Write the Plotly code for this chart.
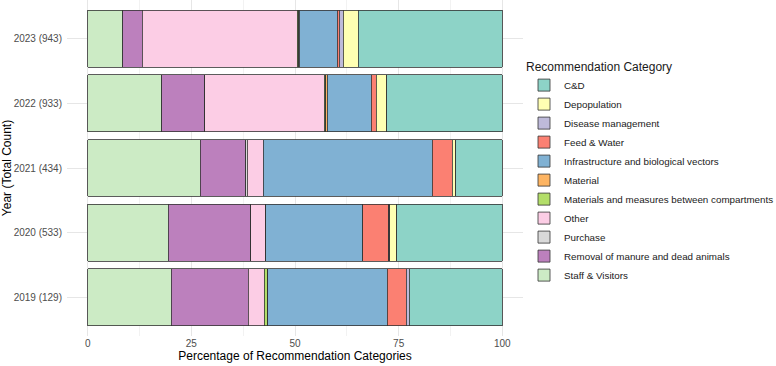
import plotly.graph_objects as go

years = ["2019 (129)", "2020 (533)", "2021 (434)", "2022 (933)", "2023 (943)"]

# Stacking order (left to right), values in % per year (2019..2023)
categories = [
    "Staff & Visitors",
    "Removal of manure and dead animals",
    "Purchase",
    "Other",
    "Materials and measures between compartments",
    "Material",
    "Infrastructure and biological vectors",
    "Feed & Water",
    "Disease management",
    "Depopulation",
    "C&D",
]
staff_visitors = [20.2, 19.4, 27.1, 17.8, 8.5]
removal_manure = [18.5, 19.9, 11.0, 10.4, 4.6]
purchase = [0.0, 0.0, 0.4, 0.0, 0.0]
other = [3.9, 3.7, 3.9, 28.9, 37.5]
materials_between = [0.8, 0.0, 0.0, 0.3, 0.3]
material = [0.0, 0.0, 0.0, 0.4, 0.1]
infrastructure = [28.8, 23.3, 40.7, 10.6, 9.2]
feed_water = [4.6, 6.3, 4.8, 1.2, 0.5]
disease_mgmt = [0.8, 0.2, 0.0, 0.0, 0.9]
depopulation = [0.0, 1.7, 0.9, 2.5, 3.6]
c_and_d = [22.4, 25.5, 11.2, 27.9, 34.8]

series = [staff_visitors, removal_manure, purchase, other, materials_between,
          material, infrastructure, feed_water, disease_mgmt, depopulation, c_and_d]
colors = ["#CCEBC5", "#BC80BD", "#D9D9D9", "#FCCDE5", "#B3DE69", "#FDB462",
          "#80B1D3", "#FB8072", "#BEBADA", "#FFFFB3", "#8DD3C7"]

fig = go.Figure()
for name, vals, col in zip(categories, series, colors):
    fig.add_trace(go.Bar(
        y=years, x=vals, name=name, orientation="h",
        marker=dict(color=col, line=dict(color="#333333", width=0.8)),
        width=0.88,
    ))

L, R = 67, 253

fig.update_layout(
    barmode="stack",
    width=776, height=366,
    margin=dict(l=L, r=R, t=0, b=30),
    paper_bgcolor="white", plot_bgcolor="white",
    font=dict(family="Liberation Sans, Arial", size=11, color="black"),
    legend=dict(
        title=dict(text="Recommendation Category", font=dict(size=12)),
        traceorder="reversed",
        xref="container", yref="container",
        x=524 / 776, xanchor="left", y=1 - 55 / 366, yanchor="top",
        font=dict(size=9.8, color="#1a1a1a"),
        tracegroupgap=0,
        borderwidth=0,
        maxheight=1,
    ),
    xaxis=dict(
        range=[-5, 105], tickvals=[0, 25, 50, 75, 100],
        showgrid=True, gridcolor="#e6e6e6", gridwidth=1,
        minor=dict(tickvals=[12.5, 37.5, 62.5, 87.5], showgrid=True,
                   gridcolor="#f2f2f2", gridwidth=0.6),
        zeroline=False, showline=False, ticks="",
        tickfont=dict(size=10, color="#4d4d4d"),
        title=dict(text="Percentage of Recommendation Categories",
                   font=dict(size=12), standoff=3),
    ),
    yaxis=dict(
        categoryorder="array", categoryarray=years,
        range=[-0.6, 4.6],
        showgrid=True, gridcolor="#e6e6e6", gridwidth=1,
        zeroline=False, showline=False, ticks="",
        ticklabelstandoff=4,
        tickfont=dict(size=10, color="#4d4d4d"),
        title=dict(text="Year (Total Count)", font=dict(size=12), standoff=4),
    ),
)

fig.write_html("out.html")
